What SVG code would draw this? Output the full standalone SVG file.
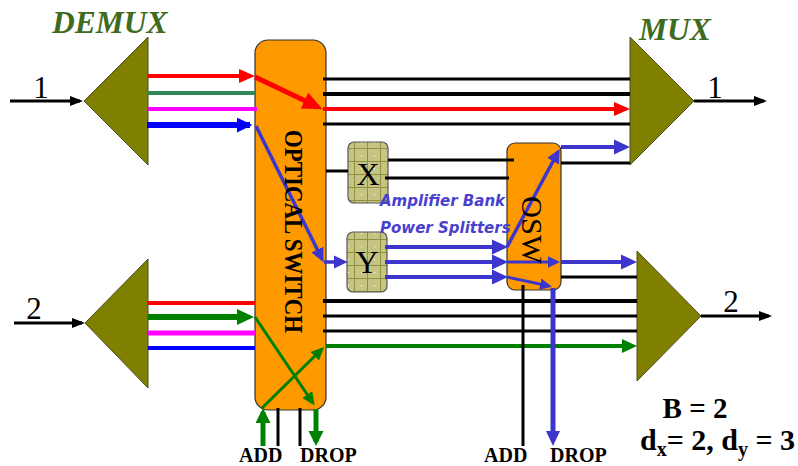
<svg xmlns="http://www.w3.org/2000/svg" width="798" height="466" viewBox="0 0 798 466">
<style>
.tri{fill:#808000;stroke:#4d4d20;stroke-width:1}
.sw{fill:#ff9900;stroke:#333;stroke-width:1.2}
.amp{fill:url(#grid);stroke:#555;stroke-width:1.2}
.s{font-family:"Liberation Serif",serif;fill:#000}
.b{font-weight:bold}
.h{font-family:"Liberation Serif",serif;font-weight:bold;font-style:italic;fill:#3f6b1e;font-size:31.5px}
.v{font-family:"DejaVu Sans",sans-serif;font-weight:bold;font-style:italic;fill:#4a3fd0;font-size:15px}
#connectors line,#connectors path{fill:none;stroke-linecap:butt}
.k{stroke:#000}.r{stroke:#f00}.g{stroke:#008000}.sg{stroke:#2e8b57}.m{stroke:#f0f}.u{stroke:#00f}.i{stroke:#3d36cc}
</style>
<defs>
<pattern id="grid" width="13" height="13" patternUnits="userSpaceOnUse" x="348" y="142">
<rect width="13" height="13" fill="#c6c482"/>
<path d="M0 6.5H13M6.5 0V13" stroke="#8f9140" stroke-width="1"/>
<circle cx="0.5" cy="0.5" r="0.7" fill="#fff"/>
</pattern>
<marker id="ak" markerWidth="5" markerHeight="4" refX="3.5" refY="1.75" orient="auto"><path d="M0 0L4.5 1.75L0 3.5z" fill="#000"/></marker>
<marker id="ar" markerWidth="5" markerHeight="4" refX="3" refY="1.75" orient="auto"><path d="M0 0L4 1.75L0 3.5z" fill="#f00"/></marker>
<marker id="au" markerWidth="4" markerHeight="4" refX="2.2" refY="1.25" orient="auto"><path d="M0 0L2.6 1.25L0 2.5z" fill="#00f"/></marker>
<marker id="ai" markerWidth="5" markerHeight="4.5" refX="3" refY="1.9" orient="auto"><path d="M0 0L4 1.9L0 3.8z" fill="#3d36cc"/></marker>
<marker id="ag" markerWidth="6" markerHeight="6" refX="3.4" refY="2" orient="auto"><path d="M0 0L4.4 2L0 4z" fill="#008000"/></marker>
<marker id="ag2" markerWidth="4" markerHeight="4" refX="2.2" refY="1.5" orient="auto"><path d="M0 0L3 1.5L0 3z" fill="#008000"/></marker>
</defs>

<g id="demux1"><polygon class="tri" points="148,37 84,101 148,165"/><text class="h" x="52" y="33">DEMUX</text></g>
<g id="demux2"><polygon class="tri" points="148,259 85,323 148,388"/></g>
<g id="mux1"><polygon class="tri" points="630,37 694,101 630,165"/><text class="h" x="639" y="40">MUX</text></g>
<g id="mux2"><polygon class="tri" points="637,251 701,316 637,381"/></g>
<g id="optical-switch"><rect class="sw" x="255" y="40" width="71" height="370" rx="13"/></g>
<g id="osw"><rect class="sw" x="507" y="143" width="54" height="147" rx="8"/></g>
<g id="amp-x"><rect class="amp" x="348" y="142" width="40" height="61" rx="6"/></g>
<g id="amp-y"><rect class="amp" x="347" y="232" width="40" height="60" rx="6"/></g>

<g id="connectors">
<line class="k" x1="10" y1="101" x2="80" y2="101" stroke-width="3" marker-end="url(#ak)"/>
<line class="k" x1="14" y1="323" x2="82" y2="323" stroke-width="3" marker-end="url(#ak)"/>
<line class="k" x1="694" y1="101" x2="764" y2="101" stroke-width="3" marker-end="url(#ak)"/>
<line class="k" x1="701" y1="316" x2="769" y2="316" stroke-width="3" marker-end="url(#ak)"/>

<line class="r" x1="148" y1="76" x2="251" y2="76" stroke-width="4" marker-end="url(#ar)"/>
<line class="sg" x1="147" y1="93" x2="255" y2="93" stroke-width="4"/>
<line class="m" x1="148" y1="109" x2="257" y2="109" stroke-width="4"/>
<line class="u" x1="147" y1="125" x2="250" y2="125" stroke-width="6" marker-end="url(#au)"/>
<line class="r" x1="255" y1="77" x2="318" y2="107" stroke-width="5" marker-end="url(#ar)"/>

<line class="k" x1="323" y1="79" x2="630" y2="79" stroke-width="3"/>
<line class="k" x1="323" y1="94" x2="630" y2="94" stroke-width="4"/>
<line class="r" x1="323" y1="109" x2="626" y2="109" stroke-width="4" marker-end="url(#ar)"/>
<line class="k" x1="323" y1="124" x2="630" y2="124" stroke-width="3"/>

<line class="i" x1="256" y1="126" x2="322" y2="259" stroke-width="3.5" marker-end="url(#ai)"/>
<line class="i" x1="324" y1="262" x2="344" y2="262" stroke-width="3.5" marker-end="url(#ai)"/>

<line class="k" x1="326" y1="171" x2="348" y2="171" stroke-width="3"/>
<line class="k" x1="388" y1="160" x2="514" y2="160" stroke-width="3"/>
<line class="k" x1="385" y1="178" x2="509" y2="178" stroke-width="3"/>

<line class="i" x1="385" y1="247" x2="504" y2="247" stroke-width="4" marker-end="url(#ai)"/>
<line class="i" x1="385" y1="262" x2="504" y2="262" stroke-width="4" marker-end="url(#ai)"/>
<line class="i" x1="385" y1="277" x2="504" y2="277" stroke-width="4" marker-end="url(#ai)"/>
<line class="i" x1="507" y1="247" x2="558" y2="152" stroke-width="3.5" marker-end="url(#ai)"/>
<line class="i" x1="507" y1="262" x2="557" y2="262" stroke-width="3" marker-end="url(#ai)"/>
<line class="i" x1="507" y1="277" x2="549" y2="286" stroke-width="3" marker-end="url(#ai)"/>
<line class="i" x1="561" y1="147" x2="626" y2="147" stroke-width="4" marker-end="url(#ai)"/>
<line class="i" x1="561" y1="262" x2="633" y2="262" stroke-width="4" marker-end="url(#ai)"/>
<line class="k" x1="561" y1="163" x2="630" y2="163" stroke-width="3"/>
<line class="k" x1="561" y1="277" x2="637" y2="277" stroke-width="3"/>

<line class="r" x1="148" y1="303" x2="255" y2="303" stroke-width="4"/>
<line class="g" x1="148" y1="317" x2="242" y2="317" stroke-width="6"/>
<polygon points="237,309 254,317 237,325" fill="#008000"/>
<line class="m" x1="148" y1="333" x2="255" y2="333" stroke-width="5"/>
<line class="u" x1="148" y1="348" x2="255" y2="348" stroke-width="4"/>

<line class="k" x1="323" y1="301" x2="637" y2="301" stroke-width="4"/>
<line class="k" x1="323" y1="316" x2="637" y2="316" stroke-width="3"/>
<line class="k" x1="323" y1="331" x2="637" y2="331" stroke-width="3"/>
<line class="g" x1="326" y1="346" x2="625" y2="346" stroke-width="4"/>
<polygon points="622,339 637,346 622,353" fill="#008000"/>
<line class="k" x1="523" y1="285" x2="523" y2="446" stroke-width="3"/>
<line class="i" x1="553" y1="288" x2="553" y2="434" stroke-width="5"/>
<polygon points="546,431 560,431 553,446" fill="#3d36cc"/>

<line class="g" x1="255" y1="317" x2="313" y2="403" stroke-width="3" marker-end="url(#ag)"/>
<line class="g" x1="262" y1="408" x2="322" y2="349" stroke-width="3" marker-end="url(#ag)"/>
<line class="g" x1="263" y1="446" x2="263" y2="412" stroke-width="5" marker-end="url(#ag2)"/>
<line class="g" x1="316" y1="409" x2="316" y2="442" stroke-width="5" marker-end="url(#ag2)"/>
<line class="k" x1="278" y1="408" x2="278" y2="446" stroke-width="3"/>
<line class="k" x1="300" y1="408" x2="300" y2="446" stroke-width="3"/>
</g>

<g id="labels">
<text class="s" x="41" y="98" font-size="31" text-anchor="middle">1</text>
<text class="s" x="34" y="319" font-size="31" text-anchor="middle">2</text>
<text class="s" x="715" y="98" font-size="31" text-anchor="middle">1</text>
<text class="s" x="731" y="312" font-size="31" text-anchor="middle">2</text>
<text class="s b" transform="translate(285,130) rotate(90)" font-size="25" textLength="203" lengthAdjust="spacingAndGlyphs">OPTICAL SWITCH</text>
<text class="s" transform="translate(522,196) rotate(90)" font-size="30" textLength="68" lengthAdjust="spacingAndGlyphs">OSW</text>
<text class="s" x="368" y="185" font-size="32" text-anchor="middle">X</text>
<text class="s" x="367" y="273" font-size="32" text-anchor="middle">Y</text>
<text class="v" x="380" y="206">Amplifier Bank</text>
<text class="v" x="380" y="233">Power Splitters</text>
<text class="s b" x="239" y="461.5" font-size="20">ADD</text>
<text class="s b" x="300" y="461.5" font-size="20">DROP</text>
<text class="s b" x="484" y="461.5" font-size="20">ADD</text>
<text class="s b" x="550" y="461.5" font-size="20">DROP</text>
<text class="s b" x="695" y="418" font-size="29" text-anchor="middle">B = 2</text>
<text class="s b" x="640" y="450" font-size="30">d<tspan font-size="20" dy="6">x</tspan><tspan dy="-6">= 2, d</tspan><tspan font-size="20" dy="6">y</tspan><tspan dy="-6"> = 3</tspan></text>
</g>
</svg>
